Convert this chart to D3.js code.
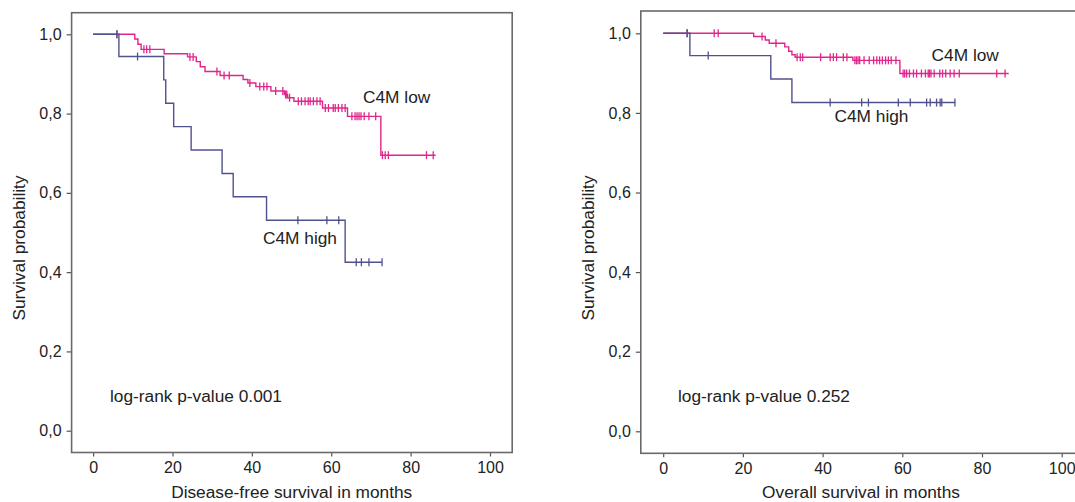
<!DOCTYPE html>
<html><head><meta charset="utf-8">
<script src="https://cdn.jsdelivr.net/npm/d3@7"></script>
<style>body{margin:0;background:#fff;} svg{display:block;font-family:"Liberation Sans",Arial,sans-serif;}</style>
</head><body><svg id="c" width="1075" height="502"></svg>
<script>
// ---------- data ----------
const xTicks = [0, 20, 40, 60, 80, 100];
const yTicks = [0, 0.2, 0.4, 0.6, 0.8, 1.0];
const groupNames = ["C4M low", "C4M high"];

// Disease-free survival, C4M low
const dfsLowTimes = [0, 10.5, 11.3, 12.1, 17.9, 23.8, 26.0, 27.0, 28.2, 32.0, 37.8, 39.0, 41.0, 44.8, 48.2, 49.0, 50.6, 57.8, 64.1, 72.5];
const dfsLowSurv  = [1.0, 0.988, 0.975, 0.962, 0.951, 0.943, 0.931, 0.918, 0.906, 0.896, 0.886, 0.877, 0.868, 0.857, 0.848, 0.840, 0.831, 0.814, 0.793, 0.695];
const dfsLowEnd = 86.3;
const dfsLowCensor = [6.0, 12.8, 13.5, 14.3, 24.4, 25.2, 31.2, 33.0, 34.3, 39.5, 42.0, 43.0, 43.8, 46.0, 47.8, 48.5, 48.8, 49.5, 51.7, 52.5, 53.4, 54.2, 54.7, 55.5, 56.4, 57.2, 58.5, 59.3, 60.5, 61.0, 61.8, 62.7, 63.5, 65.2, 66.0, 66.5, 67.0, 67.5, 68.3, 69.5, 71.2, 72.9, 73.6, 74.4, 84.0, 85.7];

// Disease-free survival, C4M high
const dfsHighTimes = [0, 6.5, 17.8, 18.3, 20.3, 24.7, 32.5, 35.3, 43.7, 63.5];
const dfsHighSurv  = [1.0, 0.944, 0.885, 0.826, 0.767, 0.708, 0.649, 0.590, 0.531, 0.425];
const dfsHighEnd = 72.8;
const dfsHighCensor = [6.0, 11.2, 51.6, 58.9, 61.9, 66.3, 67.6, 69.5, 72.8];

// Overall survival, C4M low
const osLowTimes = [0, 22.7, 25.6, 26.6, 30.5, 31.5, 32.3, 33.1, 47.6, 59.4];
const osLowSurv  = [1.0, 0.992, 0.983, 0.975, 0.966, 0.955, 0.946, 0.940, 0.932, 0.899];
const osLowEnd = 86.7;
const osLowCensor = [6.0, 12.8, 13.8, 24.8, 28.3, 33.6, 34.4, 35.0, 39.5, 41.9, 42.7, 43.5, 45.2, 46.1, 48.1, 48.5, 48.9, 49.3, 50.4, 51.7, 52.8, 53.6, 54.3, 55.0, 55.8, 56.5, 57.2, 58.4, 60.2, 60.6, 61.1, 61.8, 62.8, 63.6, 64.8, 65.8, 66.5, 66.8, 67.2, 68.0, 69.4, 70.1, 70.9, 72.0, 73.0, 74.3, 83.7, 85.8];

// Overall survival, C4M high
const osHighTimes = [0, 6.7, 27.0, 32.3];
const osHighSurv  = [1.0, 0.944, 0.885, 0.826];
const osHighEnd = 73.3;
const osHighCensor = [6.0, 11.3, 41.9, 49.8, 51.5, 59.0, 62.0, 66.1, 67.0, 68.6, 69.5, 69.9, 73.2];

const pValues = ["0.001", "0.252"];
const xTitles = ["Disease-free survival in months", "Overall survival in months"];
const yTitle = "Survival probability";

// ---------- drawing ----------
const svg = d3.select("#c");
const colLow = "#e0268c", colHigh = "#50528e";

function stepAt(times, surv, t) {
  let v = surv[0];
  for (let i = 0; i < times.length; i++) if (times[i] <= t) v = surv[i];
  return v;
}

function panel(cfg) {
  const g = svg.append("g");
  const x = d3.scaleLinear().domain([0, 100]).range(cfg.xr);
  const y = d3.scaleLinear().domain([0, 1]).range(cfg.yr);

  // axes
  const ax = g.append("g").attr("transform", `translate(0,${cfg.frame[3]})`)
    .call(d3.axisBottom(x).tickValues(xTicks).tickSize(4).tickSizeOuter(0).tickPadding(5));
  const ay = g.append("g").attr("transform", `translate(${cfg.frame[0]},0)`)
    .call(d3.axisLeft(y).tickValues(yTicks).tickSize(5).tickSizeOuter(0).tickPadding(5)
      .tickFormat(d => d3.format(".1f")(d).replace(".", ",")));
  [ax, ay].forEach(a => {
    a.select(".domain").remove();
    a.selectAll("line").attr("stroke", "#555").attr("stroke-width", 1.2);
    a.selectAll("text").attr("fill", "#222").style("font-size", "16px")
      .style("font-family", '"Liberation Sans",Arial,sans-serif');
  });

  // frame
  g.append("rect").attr("x", cfg.frame[0]).attr("y", cfg.frame[1])
    .attr("width", cfg.frame[2] - cfg.frame[0]).attr("height", cfg.frame[3] - cfg.frame[1])
    .attr("fill", "none").attr("stroke", "#6a6a6a").attr("stroke-width", 1.6);

  const line = d3.line().curve(d3.curveStepAfter).x(d => x(d[0])).y(d => y(d[1]));
  cfg.series.forEach(s => {
    const pts = s.times.map((t, i) => [t, s.surv[i]]);
    pts.push([s.end, s.surv[s.surv.length - 1]]);
    g.append("path").attr("d", line(pts)).attr("fill", "none")
      .attr("stroke", s.color).attr("stroke-width", 1.4);
    g.append("g").selectAll("line").data(s.censor).join("line")
      .attr("x1", d => x(d)).attr("x2", d => x(d))
      .attr("y1", d => y(stepAt(s.times, s.surv, d)) - 4)
      .attr("y2", d => y(stepAt(s.times, s.surv, d)) + 4)
      .attr("stroke", s.color).attr("stroke-width", 1.3);
  });

  const tx = (sel) => sel.attr("fill", "#222");
  g.append("text").text(groupNames[0]).attr("x", cfg.lowLab[0]).attr("y", cfg.lowLab[1])
    .style("font-size", "17.3px").call(tx);
  g.append("text").text(groupNames[1]).attr("x", cfg.highLab[0]).attr("y", cfg.highLab[1])
    .style("font-size", "17.3px").call(tx);
  g.append("text").text("log-rank p-value " + cfg.p).attr("x", cfg.pLab[0]).attr("y", cfg.pLab[1])
    .style("font-size", "17.3px").call(tx);
  g.append("text").text(cfg.xTitle).attr("x", cfg.xTitlePos[0]).attr("y", cfg.xTitlePos[1])
    .attr("text-anchor", "middle").style("font-size", "17.3px").call(tx);
  g.append("text").text(yTitle)
    .attr("transform", `translate(${cfg.yTitlePos[0]},${cfg.yTitlePos[1]}) rotate(-90)`)
    .attr("text-anchor", "middle").attr("dy", "0.35em").style("font-size", "17.3px").call(tx);
}

panel({
  frame: [71.6, 12.7, 512.2, 452.5], xr: [93.1, 490], yr: [430.7, 34.3],
  series: [
    { times: dfsLowTimes, surv: dfsLowSurv, end: dfsLowEnd, censor: dfsLowCensor, color: colLow },
    { times: dfsHighTimes, surv: dfsHighSurv, end: dfsHighEnd, censor: dfsHighCensor, color: colHigh }
  ],
  lowLab: [363, 103.3], highLab: [263, 244.3], pLab: [110, 401.7], p: pValues[0],
  xTitle: xTitles[0], xTitlePos: [291.7, 498], yTitlePos: [19, 248]
});
panel({
  frame: [640.8, 11, 1083, 453.3], xr: [663.2, 1061.7], yr: [431.3, 33.3],
  series: [
    { times: osLowTimes, surv: osLowSurv, end: osLowEnd, censor: osLowCensor, color: colLow },
    { times: osHighTimes, surv: osHighSurv, end: osHighEnd, censor: osHighCensor, color: colHigh }
  ],
  lowLab: [931.6, 61], highLab: [834.5, 121.7], pLab: [678, 401.7], p: pValues[1],
  xTitle: xTitles[1], xTitlePos: [861, 498], yTitlePos: [588, 248]
});
</script></body></html>
